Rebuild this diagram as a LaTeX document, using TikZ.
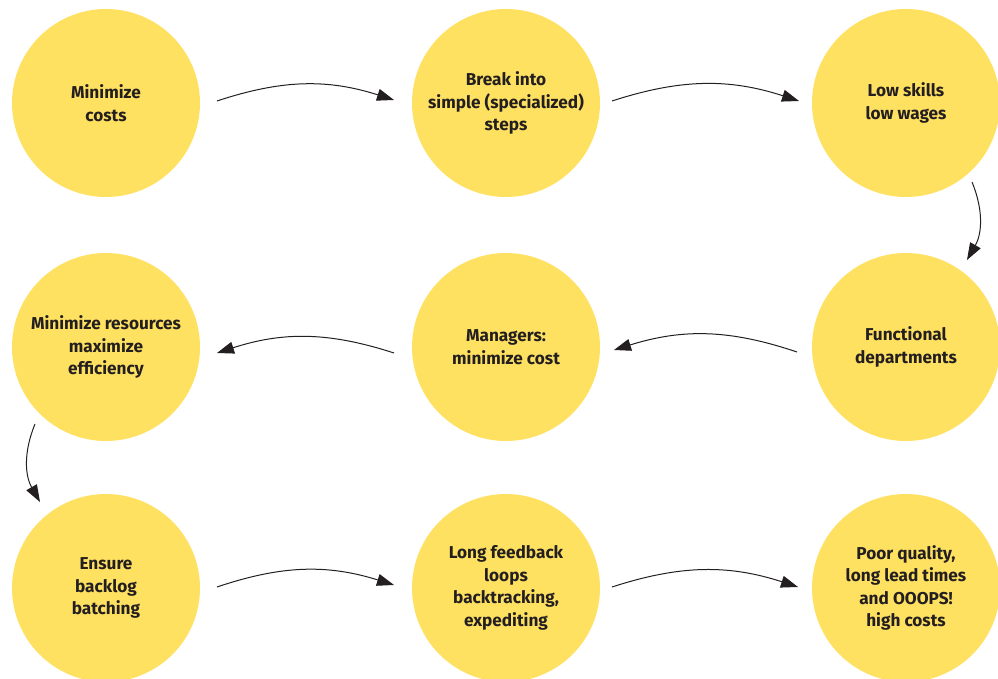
\documentclass[tikz,border=0pt]{standalone}
\usepackage{fontspec}
\setmainfont{Fira Sans}
\usetikzlibrary{arrows.meta,calc}
\definecolor{circ}{HTML}{FFE162}
\definecolor{ink}{HTML}{231F20}
\begin{document}
\begin{tikzpicture}[x=1pt,y=-1pt,
  bubble/.style={circle,fill=circ,minimum size=188pt,inner sep=0pt,align=center,
    text=ink,font=\bfseries\fontsize{17.2}{22.5}\selectfont},
  arr/.style={draw=ink,line width=1pt,-{Triangle[length=17pt,width=12pt]}}]
\useasboundingbox (0,0) rectangle (998,679);
\node[bubble] (c1) at (106,103) {Minimize\\costs};
\node[bubble] (c2) at (506,103) {Break into\\simple (specialized)\\steps};
\node[bubble] (c3) at (906,103) {Low skills\\low wages};
\node[bubble] (c4) at (106,347) {Minimize resources\\maximize\\efficiency};
\node[bubble] (c5) at (506,347) {Managers:\\minimize cost};
\node[bubble] (c6) at (906,347) {Functional\\departments};
\node[bubble] (c7) at (106,588) {Ensure\\backlog\\batching};
\node[bubble] (c8) at (506,588) {Long feedback\\loops\\backtracking,\\expediting};
\node[bubble] (c9) at (906,588) {Poor quality,\\long lead times\\and OOOPS!\\high costs};
\draw[arr] ([shift={(111,-2)}]c1.center) to[bend left=18] ([shift={(-112,-3)}]c2.center);
\draw[arr] ([shift={(106,-2)}]c2.center) to[bend left=18] ([shift={(-107,-2)}]c3.center);
\draw[arr] ([shift={(66,79)}]c3.center) to[bend left=26] ([shift={(61,-87)}]c6.center);
\draw[arr] ([shift={(-109,5)}]c6.center) to[bend right=18] ([shift={(108,3)}]c5.center);
\draw[arr] ([shift={(-112,6)}]c5.center) to[bend right=18] ([shift={(111,6)}]c4.center);
\draw[arr] ([shift={(-71,77)}]c4.center) to[bend right=26] ([shift={(-66,-86)}]c7.center);
\draw[arr] ([shift={(111,-1)}]c7.center) to[bend left=18] ([shift={(-112,-3)}]c8.center);
\draw[arr] ([shift={(106,-1)}]c8.center) to[bend left=18] ([shift={(-108,-1)}]c9.center);
\end{tikzpicture}
\end{document}
